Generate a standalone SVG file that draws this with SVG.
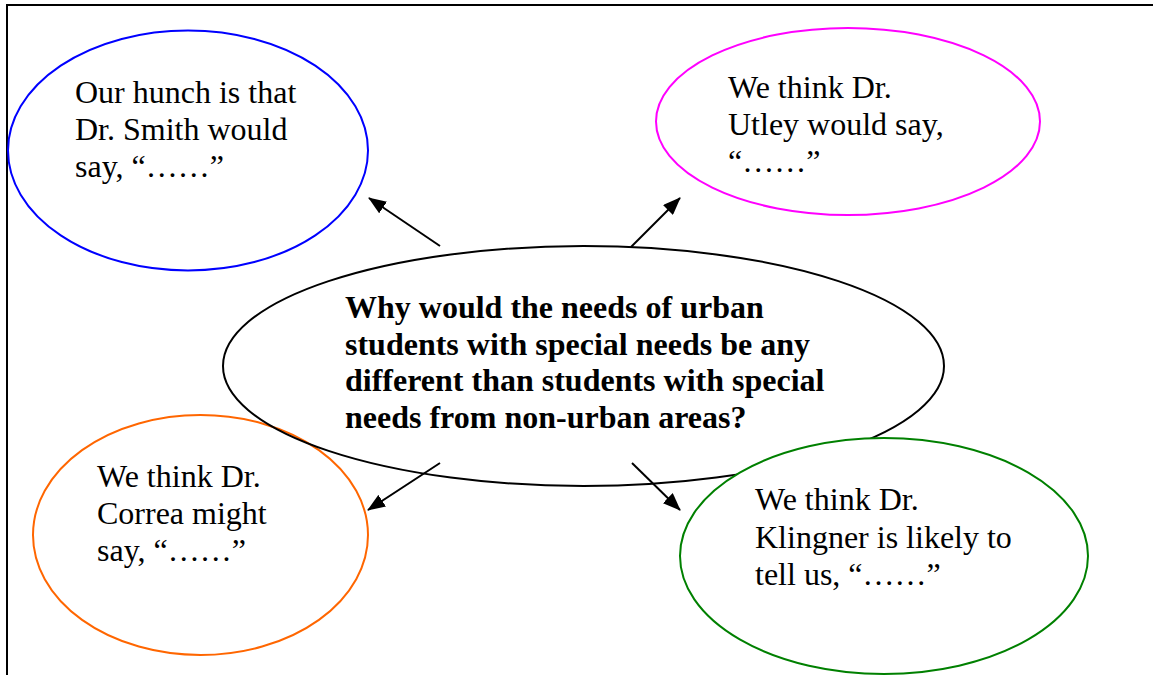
<svg xmlns="http://www.w3.org/2000/svg" width="1153" height="675" viewBox="0 0 1153 675">
<defs>
<style>
.t{font-family:"Liberation Serif","Times New Roman",serif;font-size:32px;fill:#000}
.b{font-weight:bold}
.e{stroke-width:2}
.c{stroke:#000;stroke-width:2;fill:none}
</style>
<marker id="ah" markerUnits="userSpaceOnUse" markerWidth="18" markerHeight="14" refX="17" refY="7" orient="auto">
<path d="M0,0 L18,7 L0,14 Z" fill="#000"/>
</marker>
</defs>
<rect width="1153" height="675" fill="#fff"/>
<path d="M7,675 V5 H1153" fill="none" stroke="#000" stroke-width="2"/>
<g id="node-smith">
<ellipse class="e" cx="188" cy="150.5" rx="180" ry="120" fill="#fff" stroke="#0000ff"/>
<text class="t" x="75" y="103">Our hunch is that</text>
<text class="t" x="75" y="140">Dr. Smith would</text>
<text class="t" x="75" y="177">say, “……”</text>
</g>
<g id="node-utley">
<ellipse class="e" cx="848" cy="121.5" rx="192" ry="93.5" fill="#fff" stroke="#ff00ff"/>
<text class="t" x="728" y="98">We think Dr.</text>
<text class="t" x="728" y="135">Utley would say,</text>
<text class="t" x="728" y="172">“……”</text>
</g>
<g id="node-correa">
<ellipse class="e" cx="200.5" cy="535" rx="167.5" ry="120" fill="#fff" stroke="#ff6600"/>
<text class="t" x="97" y="487">We think Dr.</text>
<text class="t" x="97" y="524">Correa might</text>
<text class="t" x="97" y="561">say, “……”</text>
</g>
<g id="node-center">
<ellipse class="e" cx="583.5" cy="366" rx="360.5" ry="120" fill="none" stroke="#000"/>
<text class="t b" x="345" y="318">Why would the needs of urban</text>
<text class="t b" x="345" y="355">students with special needs be any</text>
<text class="t b" x="345" y="391">different than students with special</text>
<text class="t b" x="345" y="428">needs from non-urban areas?</text>
</g>
<g id="node-klingner">
<ellipse class="e" cx="884" cy="556" rx="204" ry="118" fill="#fff" stroke="#008000"/>
<text class="t" x="755" y="510">We think Dr.</text>
<text class="t" x="755" y="548">Klingner is likely to</text>
<text class="t" x="755" y="585">tell us, “……”</text>
</g>
<g id="connectors">
<line class="c" x1="440" y1="246" x2="369" y2="198" marker-end="url(#ah)"/>
<line class="c" x1="631" y1="247" x2="680" y2="198" marker-end="url(#ah)"/>
<line class="c" x1="440" y1="463" x2="368" y2="510" marker-end="url(#ah)"/>
<line class="c" x1="632" y1="463" x2="680" y2="510" marker-end="url(#ah)"/>
</g>
</svg>
